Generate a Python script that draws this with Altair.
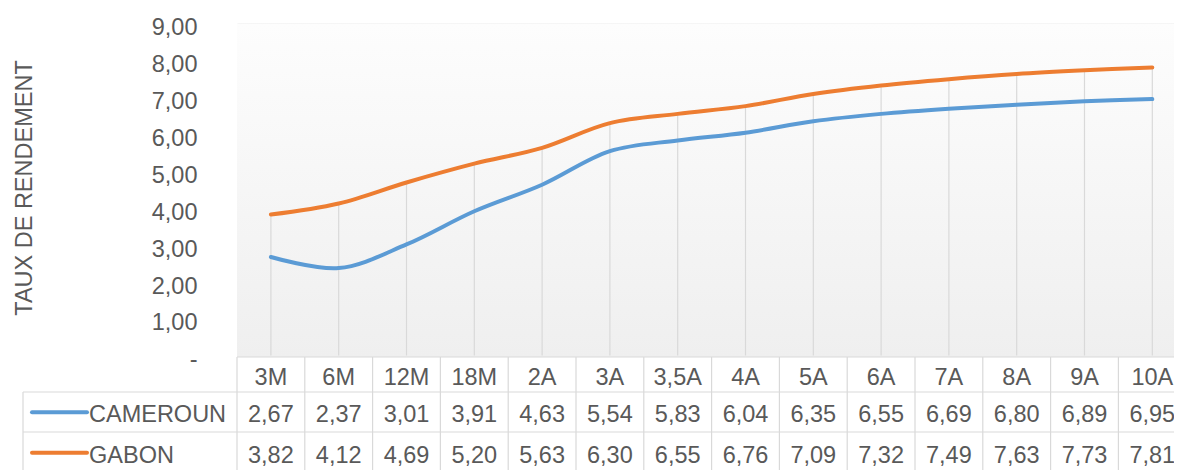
import altair as alt
import pandas as pd

# ---------------- data ----------------
categories = ["3M", "6M", "12M", "18M", "2A", "3A", "3,5A", "4A", "5A", "6A", "7A", "8A", "9A", "10A"]
cameroun = [2.67, 2.37, 3.01, 3.91, 4.63, 5.54, 5.83, 6.04, 6.35, 6.55, 6.69, 6.80, 6.89, 6.95]
gabon = [3.82, 4.12, 4.69, 5.20, 5.63, 6.30, 6.55, 6.76, 7.09, 7.32, 7.49, 7.63, 7.73, 7.81]
series_names = ["CAMEROUN", "GABON"]
series_colors = ["#5B9BD5", "#ED7D31"]
y_ticks = [0, 1, 2, 3, 4, 5, 6, 7, 8, 9]
y_title = "TAUX DE RENDEMENT"

# ---------------- layout ----------------
FONT = "Liberation Sans"
FS = 23.5
TXT = "#595959"
LINE = "#d9d9d9"
W, H = 937, 332
PLOT_LEFT, PLOT_TOP = 237, 23.5
COL = 67.8                 # pixel width of one category column
PX = H / 9.0               # pixels per y unit
XMAX = W / COL
ZERO_Y = PLOT_TOP + H


def ux(px):
    return (px - PLOT_LEFT) / COL


def uy(py):
    return (ZERO_Y - py) / PX


xs = alt.Scale(domain=[0, XMAX], nice=False, zero=False)
ys = alt.Scale(domain=[0, 9], nice=False, zero=False)
n = len(categories)
series_values = [cameroun, gabon]

yaxis = alt.Axis(
    values=y_ticks, title=y_title,
    labelExpr="datum.value == 0 ? '-\u00a0\u00a0' : replace(format(datum.value, '.2f'), '.', ',')",
    labelFont=FONT, labelFontSize=FS, labelColor=TXT, labelPadding=40,
    labelBaseline="alphabetic", labelOffset=11.3, labelOverlap=False,
    domain=False, ticks=False, grid=False,
    titleFont=FONT, titleFontSize=FS, titleFontWeight="normal", titleColor=TXT,
    titleX=-206, titleY=164, titleBaseline="alphabetic", titleAlign="center",
)


def X(field):
    return alt.X(field, scale=xs, axis=None)


def Y(field):
    return alt.Y(field, scale=ys, axis=yaxis)


# line data
rows = []
for s, vals in zip(series_names, series_values):
    for i, v in enumerate(vals):
        rows.append({"series": s, "x": i + 0.5, "value": v, "i": i})
lines_df = pd.DataFrame(rows)

drop_df = pd.DataFrame({"x": [i + 0.5 for i in range(n)],
                        "zero": [0] * n,
                        "top": [max(a, b) for a, b in zip(cameroun, gabon)]})

# table geometry (rows: header, CAMEROUN, GABON)
header_top = uy(357)
row_tops = [uy(392), uy(432)]
table_bottom = uy(478)
legend_left = ux(23)

vb = [{"x": float(i), "y1": header_top, "y2": table_bottom} for i in range(n + 1)]
vb.append({"x": legend_left, "y1": row_tops[0], "y2": table_bottom})
vborders = pd.DataFrame(vb)

hb = [{"y": header_top, "x1": 0.0, "x2": float(n)}]
for t in row_tops:
    hb.append({"y": t, "x1": legend_left, "x2": float(n)})
hb.append({"y": table_bottom, "x1": legend_left, "x2": float(n)})
hborders = pd.DataFrame(hb)

header_df = pd.DataFrame({"x": [i + 0.5 for i in range(n)], "y": [uy(385.4)] * n, "label": categories})

row_base = [uy(422.4), uy(463.4)]
row_key = [uy(412.3), uy(452.7)]
vals_rows = []
for s, vals, yb in zip(series_names, series_values, row_base):
    for i, v in enumerate(vals):
        vals_rows.append({"x": i + 0.5, "y": yb, "label": f"{v:.2f}".replace(".", ",")})
values_df = pd.DataFrame(vals_rows)

legend_txt = pd.DataFrame({"x": [ux(89)] * 2, "y": row_base, "label": series_names})
legend_key = pd.DataFrame({"x1": [ux(32)] * 2, "x2": [ux(87)] * 2, "y": row_key, "series": series_names})

bg_df = pd.DataFrame({"x1": [0.0], "x2": [float(n)], "y1": [header_top], "y2": [9.0]})

color = alt.Color("series:N", scale=alt.Scale(domain=series_names, range=series_colors), legend=None)

bg = alt.Chart(bg_df).mark_rect(
    color=alt.Gradient(gradient="linear",
                       stops=[alt.GradientStop(color="#fdfdfd", offset=0),
                              alt.GradientStop(color="#efefef", offset=1)],
                       x1=0, x2=0, y1=0, y2=1)
).encode(x=X("x1:Q"), x2="x2:Q", y=Y("y1:Q"), y2="y2:Q")

drops = alt.Chart(drop_df).mark_rule(color=LINE, strokeWidth=1.2).encode(
    x=X("x:Q"), y=Y("zero:Q"), y2="top:Q")

vlines = alt.Chart(vborders).mark_rule(color=LINE, strokeWidth=1.2).encode(
    x=X("x:Q"), y=Y("y1:Q"), y2="y2:Q")

hlines = alt.Chart(hborders).mark_rule(color=LINE, strokeWidth=1.2).encode(
    x=X("x1:Q"), x2="x2:Q", y=Y("y:Q"))

lines = alt.Chart(lines_df).mark_line(interpolate="catmull-rom", strokeWidth=4, strokeCap="round").encode(
    x=X("x:Q"), y=Y("value:Q"), color=color, order="i:Q")

text_props = dict(font=FONT, fontSize=FS, color=TXT, baseline="alphabetic")

header = alt.Chart(header_df).mark_text(align="center", **text_props).encode(
    x=X("x:Q"), y=Y("y:Q"), text="label:N")

values = alt.Chart(values_df).mark_text(align="center", **text_props).encode(
    x=X("x:Q"), y=Y("y:Q"), text="label:N")

leg_text = alt.Chart(legend_txt).mark_text(align="left", **text_props).encode(
    x=X("x:Q"), y=Y("y:Q"), text="label:N")

leg_key = alt.Chart(legend_key).mark_rule(strokeWidth=4, strokeCap="round").encode(
    x=X("x1:Q"), x2="x2:Q", y=Y("y:Q"), color=color)

chart = alt.layer(bg, drops, vlines, hlines, lines, header, values, leg_text, leg_key).properties(
    width=W, height=H,
    autosize=alt.AutoSizeParams(type="none"),
    padding={"left": PLOT_LEFT - 8, "top": PLOT_TOP - 8, "right": 0, "bottom": 462 - (PLOT_TOP - 8) - H},
).configure_view(stroke=None).configure(background="white")

chart.save("out.html", embed_options={"renderer": "svg", "actions": False})
